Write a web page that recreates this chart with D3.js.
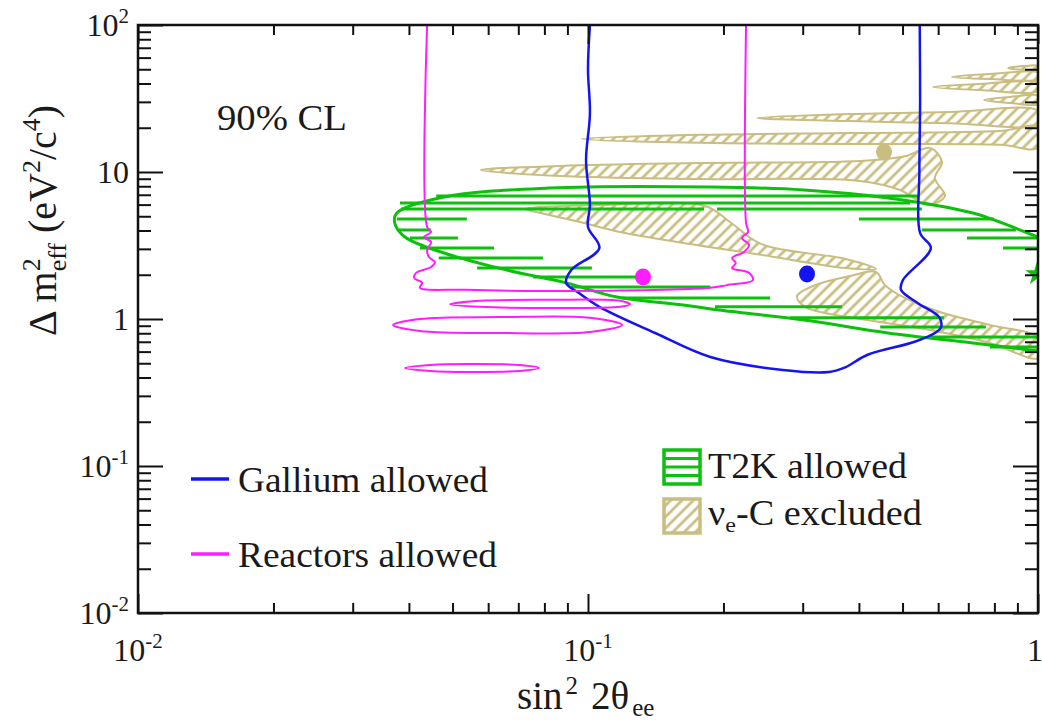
<!DOCTYPE html>
<html>
<head>
<meta charset="utf-8">
<script src="https://cdn.jsdelivr.net/npm/d3@7"></script>
<style>
  body { margin: 0; background: #fff; }
</style>
</head>
<body>
<svg id="chart" width="1042" height="722"></svg>
<script>
/* Sterile-neutrino exclusion plot: sin^2 2theta_ee vs dm^2_eff, log-log,
   Gallium / Reactors allowed contours, T2K allowed hatch, nu_e-C excluded. */

// axis ranges and tick labels
var xDomain = [0.01, 1];
var yDomain = [0.01, 100];
var xTickLabels = [[0.01, "10", "-2"], [0.1, "10", "-1"], [1, "1", ""]];
var yTickLabels = [[0.01, "10", "-2"], [0.1, "10", "-1"], [1, "1", ""], [10, "10", ""], [100, "10", "2"]];

// Gallium allowed contour [sin^2 2theta, dm^2]
var gallium = [[0.101, 100], [0.1, 50], [0.101, 25], [0.099, 12], [0.101, 6], [0.1, 4.23],
  [0.106, 3.04], [0.0917, 2.15], [0.0894, 1.76], [0.0955, 1.50], [0.106, 1.21], [0.141, 0.803],
  [0.187, 0.551], [0.271, 0.450], [0.343, 0.436], [0.374, 0.471], [0.417, 0.569], [0.530, 0.697],
  [0.590, 0.803], [0.609, 0.882], [0.603, 1.03], [0.541, 1.28], [0.496, 1.58], [0.501, 1.84],
  [0.578, 3.04], [0.547, 3.85], [0.545, 10], [0.547, 30], [0.546, 100]];

// Reactors allowed contour and its small islands
var reactors = [[0.0439, 100], [0.0439, 4.23], [0.0448, 3.91], [0.0432, 3.61], [0.0448, 3.34],
  [0.0439, 2.95], [0.0443, 2.64], [0.0457, 2.44], [0.0448, 2.26], [0.0415, 2.06], [0.0411, 1.90],
  [0.0428, 1.76], [0.0423, 1.63], [0.0533, 1.58], [0.0819, 1.55], [0.187, 1.63], [0.2037, 1.70],
  [0.2326, 1.84], [0.2279, 2.06], [0.209, 2.22], [0.213, 2.40], [0.209, 2.60], [0.2222, 2.86],
  [0.228, 3.19], [0.2199, 3.56], [0.2268, 3.91], [0.2245, 4.50], [0.2245, 100]];
var reactorIslands = [
  [[0.0494, 1.26], [0.0575, 1.33], [0.0823, 1.35], [0.1178, 1.33], [0.124, 1.26], [0.1178, 1.21], [0.0823, 1.19], [0.0575, 1.21]],
  [[0.0369, 0.910], [0.0423, 1.00], [0.0637, 1.03], [0.101, 1.02], [0.119, 0.910], [0.101, 0.816], [0.0637, 0.803], [0.0423, 0.829]],
  [[0.0392, 0.464], [0.0446, 0.486], [0.0547, 0.494], [0.0706, 0.486], [0.0778, 0.464], [0.0706, 0.443], [0.0547, 0.436], [0.0446, 0.443]]
];

// T2K allowed: outer contour and hatch rows [dm^2, sin^2 from, sin^2 to]
var t2kContour = [[1.0, 0.606], [0.717, 0.687], [0.464, 0.803], [0.302, 0.984], [0.1955, 1.15],
  [0.1643, 1.24], [0.116, 1.41], [0.0894, 1.76], [0.0661, 2.15], [0.0479, 2.81], [0.0392, 3.61],
  [0.0372, 4.50], [0.0376, 5.26], [0.0479, 6.76], [0.0819, 7.78], [0.187, 7.91], [0.302, 7.54],
  [0.464, 6.66], [0.717, 5.26], [0.7985, 4.72], [1.0, 3.61]];
var t2kHatch = [
  [6.87, 0.046, 0.54],
  [6.15, 0.0382, 0.52],
  [5.60, 0.0384, 0.181], [5.60, 0.1935, 0.552],
  [4.79, 0.0376, 0.0538], [4.79, 0.400, 0.7985],
  [4.03, 0.0380, 0.0448], [4.03, 0.552, 0.893],
  [3.56, 0.0402, 0.0514], [3.56, 0.6955, 1.0],
  [3.04, 0.0423, 0.0618], [3.04, 0.836, 1.0],
  [2.60, 0.0466, 0.0794],
  [2.22, 0.0567, 0.102],
  [1.93, 0.0755, 0.1325],
  [1.65, 0.0917, 0.187],
  [1.39, 0.119, 0.254],
  [1.21, 0.1915, 0.367],
  [1.02, 0.281, 0.618],
  [0.882, 0.446, 0.766],
  [0.754, 0.578, 1.0],
  [0.645, 0.782, 1.0]
];

// nu_e-C excluded tongues
var nueC = [
  [[0.858, 51.0], [0.936, 52.6], [1.0, 52.6], [1.0, 49.4], [0.936, 49.4]],
  [[0.644, 44.3], [0.782, 46.4], [1.0, 47.2], [1.0, 42.9], [0.782, 42.9]],
  [[0.584, 37.9], [0.743, 39.7], [1.0, 40.3], [1.0, 35.6], [0.743, 36.1]],
  [[0.759, 30.9], [0.867, 32.4], [1.0, 32.9], [1.0, 29.0], [0.867, 29.5]],
  [[0.2375, 23.3], [0.382, 24.8], [0.637, 25.6], [1.0, 26.0], [1.0, 21.2], [0.637, 21.5], [0.382, 22.2]],
  [[0.097, 16.8], [0.1774, 17.9], [0.382, 18.4], [0.823, 19.0], [1.0, 20.2], [1.0, 14.6], [0.823, 15.3], [0.382, 15.5], [0.1774, 15.8]],
  [[0.0578, 10.3], [0.0867, 11.0], [0.1774, 11.5], [0.402, 11.9], [0.506, 12.8], [0.5754, 14.6], [0.612, 11.7],
   [0.590, 9.10], [0.621, 6.87], [0.569, 5.96], [0.4935, 7.54], [0.402, 8.69], [0.1774, 8.96], [0.0867, 9.39]],
  [[0.0728, 5.60], [0.1063, 5.96], [0.182, 5.87], [0.2068, 4.57], [0.2424, 3.24], [0.374, 2.56], [0.4365, 2.19],
   [0.374, 2.22], [0.2424, 2.73], [0.1577, 3.34], [0.1178, 3.91], [0.096, 4.57], [0.0802, 5.18]],
  [[0.4365, 2.09], [0.382, 1.96], [0.3195, 1.70], [0.2913, 1.43], [0.3035, 1.21], [0.345, 1.08], [0.4456, 0.954],
   [0.590, 0.829], [0.782, 0.687], [1.0, 0.543], [1.0, 0.742], [0.782, 0.910], [0.6056, 1.116], [0.506, 1.39], [0.457, 1.70]]
];

// best-fit points
var bestFits = [
  { name: "Reactors", s: 0.1325, m: 1.93 },
  { name: "Gallium", s: 0.3067, m: 2.02 },
  { name: "nueC", s: 0.4548, m: 13.68 }
];
var t2kBest = [[0.995, 2.02]];

var BLUE = "#1414f0", MAGENTA = "#ff1cff", GREEN = "#0cc00c", KHAKI = "#c9bd80";
var SERIF = "'Liberation Serif', 'Times New Roman', serif";

var L = 138, R = 1038, T = 25, B = 613;
var svg = d3.select("#chart");
var x = d3.scaleLog().domain(xDomain).range([L, R]);
var y = d3.scaleLog().domain(yDomain).range([B, T]);

var defs = svg.append("defs");
defs.append("clipPath").attr("id", "plotClip").append("rect")
  .attr("x", L).attr("y", T).attr("width", R - L).attr("height", B - T);
var pat = defs.append("pattern").attr("id", "khakiHatch")
  .attr("patternUnits", "userSpaceOnUse").attr("width", 8).attr("height", 8)
  .attr("patternTransform", "rotate(45)");
pat.append("line").attr("x1", 4).attr("y1", 0).attr("x2", 4).attr("y2", 8)
  .attr("stroke", KHAKI).attr("stroke-width", 2.8);

var plot = svg.append("g").attr("clip-path", "url(#plotClip)");
var pathLine = d3.line().x(function (d) { return x(d[0]); }).y(function (d) { return y(d[1]); })
  .curve(d3.curveCatmullRom.alpha(0.5));
var ringLine = d3.line().x(function (d) { return x(d[0]); }).y(function (d) { return y(d[1]); })
  .curve(d3.curveCatmullRomClosed.alpha(0.5));

// nu_e-C excluded
plot.append("g").selectAll("path").data(nueC).join("path")
  .attr("d", function (d) { return ringLine(d); }).attr("fill", "url(#khakiHatch)")
  .attr("stroke", KHAKI).attr("stroke-width", 2);

// T2K
plot.append("g").selectAll("line").data(t2kHatch).join("line")
  .attr("x1", function (d) { return x(d[1]); }).attr("x2", function (d) { return x(d[2]); })
  .attr("y1", function (d) { return y(d[0]); }).attr("y2", function (d) { return y(d[0]); })
  .attr("stroke", GREEN).attr("stroke-width", 3);
plot.append("path").datum(t2kContour).attr("d", pathLine)
  .attr("fill", "none").attr("stroke", GREEN).attr("stroke-width", 3);

// Gallium and Reactors
plot.append("path").datum(gallium).attr("d", pathLine)
  .attr("fill", "none").attr("stroke", BLUE).attr("stroke-width", 2.5);
plot.append("path").datum(reactors).attr("d", pathLine)
  .attr("fill", "none").attr("stroke", MAGENTA).attr("stroke-width", 2);
plot.append("g").selectAll("path").data(reactorIslands).join("path")
  .attr("d", function (d) { return ringLine(d); }).attr("fill", "none")
  .attr("stroke", MAGENTA).attr("stroke-width", 2);

// best fits
var fitColor = { Reactors: MAGENTA, Gallium: BLUE, nueC: KHAKI };
plot.append("g").selectAll("ellipse").data(bestFits).join("ellipse")
  .attr("cx", function (d) { return x(d.s); }).attr("cy", function (d) { return y(d.m); })
  .attr("rx", 8).attr("ry", 8.5).attr("fill", function (d) { return fitColor[d.name]; });
plot.append("g").selectAll("path").data(t2kBest).join("path")
  .attr("transform", function (d) { return "translate(" + x(d[0]) + "," + y(d[1]) + ")"; })
  .attr("d", d3.symbol().type(d3.symbolStar).size(170)).attr("fill", GREEN);

// axes: ticks point inward on all four sides
function isMajor(v) { var l = Math.log10(v); return Math.abs(l - Math.round(l)) < 1e-6; }
var xMinor = x.ticks().filter(function (v) { return !isMajor(v); });
var yMinor = y.ticks().filter(function (v) { return !isMajor(v); });
var xMajor = xTickLabels.map(function (d) { return d[0]; });
var yMajor = yTickLabels.map(function (d) { return d[0]; });

function ax(gen, vals, len, tr) {
  var g = svg.append("g").attr("transform", tr)
    .call(gen.tickValues(vals).tickSize(-len).tickFormat(""));
  g.select(".domain").remove();
  g.selectAll("line").attr("stroke", "#111").attr("stroke-width", 2);
}
ax(d3.axisBottom(x), xMinor, 10, "translate(0," + B + ")");
ax(d3.axisBottom(x), xMajor, 19, "translate(0," + B + ")");
ax(d3.axisTop(x), xMinor, 10, "translate(0," + T + ")");
ax(d3.axisTop(x), xMajor, 19, "translate(0," + T + ")");
ax(d3.axisLeft(y), yMinor, 13, "translate(" + L + ",0)");
ax(d3.axisLeft(y), yMajor, 25, "translate(" + L + ",0)");
ax(d3.axisRight(y), yMinor, 13, "translate(" + R + ",0)");
ax(d3.axisRight(y), yMajor, 25, "translate(" + R + ",0)");

svg.append("rect").attr("x", L).attr("y", T).attr("width", R - L).attr("height", B - T)
  .attr("fill", "none").attr("stroke", "#111").attr("stroke-width", 2.5);

// all texts below are serif (Times-like)
var txt = svg.append("g").style("font-family", SERIF).attr("fill", "#1a1a1a");

// tick labels
txt.append("g").selectAll("text").data(yTickLabels).join("text")
  .style("font-family", SERIF)
  .attr("x", 129).attr("y", function (d) { return y(d[0]) + 11; })
  .attr("text-anchor", "end").attr("font-size", 32)
  .each(function (d) {
    var t = d3.select(this);
    t.append("tspan").text(d[1]);
    if (d[2]) t.append("tspan").attr("font-size", 21).attr("dy", -13).text(d[2]);
  });
txt.append("g").selectAll("text").data(xTickLabels).join("text")
  .style("font-family", SERIF)
  .attr("x", function (d) { return d[2] ? x(d[0]) : x(d[0]) - 3; }).attr("y", 661)
  .attr("text-anchor", "middle").attr("font-size", 32)
  .each(function (d) {
    var t = d3.select(this);
    t.append("tspan").text(d[1]);
    if (d[2]) t.append("tspan").attr("font-size", 21).attr("dy", -13).text(d[2]);
  });

// axis titles
var xt = txt.append("text").style("font-family", SERIF)
  .attr("x", 517).attr("y", 709).attr("font-size", 39);
xt.append("tspan").text("sin");
xt.append("tspan").attr("font-size", 25).attr("dx", 3).attr("dy", -15).text("2");
xt.append("tspan").attr("dx", 13).attr("dy", 15).text("2\u03b8");
xt.append("tspan").attr("font-size", 25).attr("dx", 3).attr("dy", 7).text("ee");

var yt = txt.append("text").style("font-family", SERIF)
  .attr("transform", "translate(56,336) rotate(-90)").attr("font-size", 40);
yt.append("tspan").text("\u0394 m");
yt.append("tspan").attr("font-size", 26).attr("dy", -16).text("2");
yt.append("tspan").attr("font-size", 26).attr("dx", -13).attr("dy", 26).text("eff");
yt.append("tspan").attr("dx", 10).attr("dy", -10).text("(eV");
yt.append("tspan").attr("font-size", 26).attr("dy", -16).text("2");
yt.append("tspan").attr("dy", 16).text("/c");
yt.append("tspan").attr("font-size", 26).attr("dy", -16).text("4");
yt.append("tspan").attr("dy", 16).text(")");

txt.append("text").style("font-family", SERIF).attr("x", 217).attr("y", 130).attr("font-size", 35)
  .attr("textLength", 130).attr("lengthAdjust", "spacingAndGlyphs").text("90% CL");

// legends
var legLines = [{ c: BLUE, t: "Gallium allowed", y: 479, w: 250 }, { c: MAGENTA, t: "Reactors allowed", y: 554, w: 259 }];
var lg = svg.append("g");
legLines.forEach(function (d) {
  lg.append("line").attr("x1", 191).attr("x2", 229).attr("y1", d.y).attr("y2", d.y)
    .attr("stroke", d.c).attr("stroke-width", 3.5);
  txt.append("text").style("font-family", SERIF).attr("x", 238).attr("y", d.y + 13).attr("font-size", 35)
    .attr("textLength", d.w).attr("lengthAdjust", "spacingAndGlyphs").text(d.t);
});
var bx = 664, bw = 36, bh = 34;
lg.append("rect").attr("x", bx).attr("y", 450).attr("width", bw).attr("height", bh)
  .attr("fill", "#fff").attr("stroke", GREEN).attr("stroke-width", 3.5);
[0.25, 0.5, 0.75].forEach(function (f) {
  lg.append("line").attr("x1", bx).attr("x2", bx + bw)
    .attr("y1", 450 + bh * f).attr("y2", 450 + bh * f).attr("stroke", GREEN).attr("stroke-width", 3);
});
txt.append("text").style("font-family", SERIF).attr("x", 708).attr("y", 478).attr("font-size", 35)
  .attr("textLength", 199).attr("lengthAdjust", "spacingAndGlyphs").text("T2K allowed");
lg.append("rect").attr("x", bx).attr("y", 499).attr("width", bw).attr("height", bh)
  .attr("fill", "url(#khakiHatch)").attr("stroke", KHAKI).attr("stroke-width", 3.5);
var nt = txt.append("text").style("font-family", SERIF).attr("x", 708).attr("y", 525).attr("font-size", 35)
  .attr("textLength", 214).attr("lengthAdjust", "spacingAndGlyphs");
nt.append("tspan").text("\u03bd");
nt.append("tspan").attr("font-size", 22).attr("dy", 7).text("e");
nt.append("tspan").attr("dy", -7).text("-C excluded");
</script>
</body>
</html>
